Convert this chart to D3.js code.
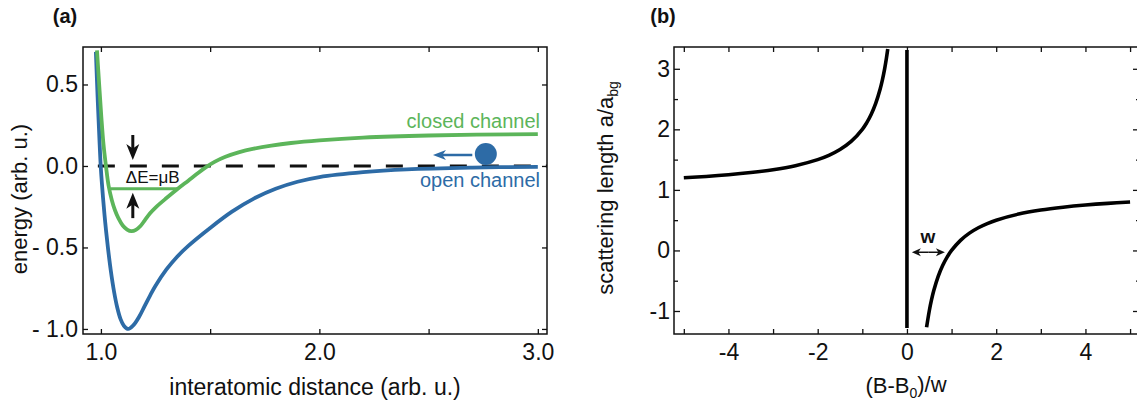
<!DOCTYPE html>
<html>
<head>
<meta charset="utf-8">
<script src="https://cdn.jsdelivr.net/npm/d3@7"></script>
<style>
  body { margin: 0; background: #fff; }
  svg text { font-family: Helvetica, Arial, "Liberation Sans", sans-serif; fill: #111; }
</style>
</head>
<body>
<script>
// ---- panel (a): potential curves ----
var openR  = [0.977, 0.985, 0.993, 1.000, 1.010, 1.020, 1.032, 1.045, 1.060, 1.075, 1.090, 1.105, 1.125,
              1.150, 1.175, 1.200, 1.225, 1.250, 1.300, 1.350, 1.400, 1.500, 1.600, 1.700, 1.800, 1.900, 2.000, 2.200, 2.400, 2.700, 3.000];
var openE  = [0.70, 0.42, 0.17, -0.02, -0.20, -0.35, -0.50, -0.64, -0.77, -0.87, -0.94, -0.98, -1.0,
              -0.975, -0.925, -0.86, -0.795, -0.735, -0.635, -0.555, -0.49, -0.38, -0.28, -0.20, -0.14, -0.097, -0.068, -0.038, -0.021, -0.01, -0.005];
var closedR = [0.982, 0.992, 1.002, 1.012, 1.023, 1.035, 1.050, 1.064, 1.080, 1.100, 1.120, 1.140,
               1.160, 1.180, 1.200, 1.225, 1.250, 1.300, 1.352, 1.400, 1.440, 1.478, 1.520, 1.570, 1.630, 1.700, 1.780, 1.870, 2.000, 2.200, 2.500, 3.000];
var closedE = [0.71, 0.50, 0.30, 0.13, 0.0, -0.12, -0.21, -0.27, -0.32, -0.365, -0.39, -0.40,
               -0.392, -0.37, -0.335, -0.29, -0.255, -0.197, -0.14, -0.09, -0.048, -0.01, 0.025, 0.056, 0.083, 0.106, 0.125, 0.141, 0.157, 0.174, 0.187, 0.196];
var boundR = [1.045, 1.352];     // bound state level, closed channel
var boundE = -0.14;
var thresholdR = [0.986, 3.042]; // dashed line at E = 0
var xTicksA = [1.0, 1.5, 2.0, 2.5, 3.0];
var xTickLabelsA = ["1.0", "", "2.0", "", "3.0"];
var yTicksA = [0.5, 0.0, -0.5, -1.0];
var yTickLabelsA = ["0.5", "0.0", "- 0.5", "- 1.0"];

// ---- panel (b): scattering length ----
var leftB  = [-5, -4.5, -4, -3.5, -3, -2.5, -2, -1.75, -1.5, -1.25, -1, -0.9, -0.8, -0.7, -0.6, -0.55, -0.5, -0.46, -0.43];
var leftA  = [1.2, 1.222, 1.25, 1.286, 1.333, 1.4, 1.5, 1.571, 1.667, 1.8, 2.0, 2.111, 2.25, 2.429, 2.667, 2.818, 3.0, 3.174, 3.326];
var rightB = [0.44, 0.5, 0.55, 0.6, 0.7, 0.8, 0.9, 1, 1.2, 1.4, 1.6, 1.8, 2, 2.5, 3, 3.5, 4, 4.5, 5];
var rightA = [-1.27, -1.0, -0.818, -0.667, -0.429, -0.25, -0.111, 0, 0.167, 0.286, 0.375, 0.444, 0.5, 0.6, 0.667, 0.714, 0.75, 0.778, 0.8];
var poleB = 0;
var poleA = [-1.28, 3.31];
var widthB = [0.11, 0.85];   // the "w" arrow
var xTicksB = [-5, -4, -3, -2, -1, 0, 1, 2, 3, 4, 5];
var xTickLabelsB = ["", "-4", "", "-2", "", "0", "", "2", "", "4", ""];
var yTicksB = [-1, 0, 1, 2, 3];
var yTickLabelsB = ["-1", "0", "1", "2", "3"];
var yMinorB = [-0.5, 0.5, 1.5, 2.5];

var blue = "#2d6ba6", green = "#5cb55a", font = "Helvetica, Arial, 'Liberation Sans', sans-serif";

var svg = d3.select("body").append("svg")
    .attr("width", 1137)
    .attr("height", 405);

//stealth arrow head, tip at (tx,ty) pointing along (ux,uy)
function arrowHead(tx, ty, ux, uy, len, w){
    var nx = -uy, ny = ux;
    return "M" + tx + "," + ty +
        "L" + (tx - len*ux + w*nx) + "," + (ty - len*uy + w*ny) +
        "L" + (tx - len*0.72*ux) + "," + (ty - len*0.72*uy) +
        "L" + (tx - len*ux - w*nx) + "," + (ty - len*uy - w*ny) + "Z";
}
function arrow(g, x1, y1, x2, y2, color, sw, len, w){
    var d = Math.hypot(x2 - x1, y2 - y1), ux = (x2 - x1)/d, uy = (y2 - y1)/d;
    g.append("line")
        .attr("x1", x1).attr("y1", y1)
        .attr("x2", x2 - ux*len*0.6).attr("y2", y2 - uy*len*0.6)
        .attr("stroke", color).attr("stroke-width", sw);
    g.append("path").attr("d", arrowHead(x2, y2, ux, uy, len, w)).attr("fill", color);
}

function styleAxis(g, size){
    g.attr("font-size", size).attr("font-family", font);
    g.select(".domain").remove();
    g.selectAll(".tick line").attr("stroke", "#111").attr("stroke-width", 1.3);
    g.selectAll(".tick text").attr("fill", "#111");
}

function frame(left, right, top, bottom){
    svg.append("rect")
        .attr("x", left).attr("y", top)
        .attr("width", right - left).attr("height", bottom - top)
        .attr("fill", "none").attr("stroke", "#111").attr("stroke-width", 1.5);
}

// ================= panel (a) =================
var xA = d3.scaleLinear().domain([0.918, 3.042]).range([83, 547]);
var yA = d3.scaleLinear().domain([-1.031, 0.730]).range([334, 47]);

svg.append("g").attr("transform", "translate(0,334)")
    .call(d3.axisBottom(xA).tickValues(xTicksA).tickFormat(function(d, i){ return xTickLabelsA[i]; })
        .tickSizeInner(-5).tickSizeOuter(0).tickPadding(10))
    .call(styleAxis, 23);
svg.append("g").attr("transform", "translate(0,47)")
    .call(d3.axisTop(xA).tickValues(xTicksA).tickFormat("").tickSizeInner(-5).tickSizeOuter(0))
    .call(styleAxis, 23);
svg.append("g").attr("transform", "translate(83,0)")
    .call(d3.axisLeft(yA).tickValues(yTicksA).tickFormat(function(d, i){ return yTickLabelsA[i]; })
        .tickSizeInner(-5).tickSizeOuter(0).tickPadding(5))
    .call(styleAxis, 23);
svg.append("g").attr("transform", "translate(547,0)")
    .call(d3.axisRight(yA).tickValues(yTicksA).tickFormat("").tickSizeInner(-5).tickSizeOuter(0))
    .call(styleAxis, 23);
frame(83, 547, 47, 334);

var lineA = d3.line()
    .x(function(d){ return xA(d[0]); })
    .y(function(d){ return yA(d[1]); })
    .curve(d3.curveCatmullRom.alpha(0.5));

// threshold (dashed)
svg.append("line")
    .attr("x1", xA(thresholdR[0])).attr("x2", xA(thresholdR[1]))
    .attr("y1", yA(0)).attr("y2", yA(0))
    .attr("stroke", "#111").attr("stroke-width", 3)
    .attr("stroke-dasharray", "17,15");

svg.append("path")
    .datum(d3.zip(openR, openE))
    .attr("d", lineA)
    .attr("fill", "none").attr("stroke", blue).attr("stroke-width", 3.8);

svg.append("path")
    .datum(d3.zip(closedR, closedE))
    .attr("d", lineA)
    .attr("fill", "none").attr("stroke", green).attr("stroke-width", 3.8);

// bound state level
svg.append("line")
    .attr("x1", xA(boundR[0])).attr("x2", xA(boundR[1]))
    .attr("y1", yA(boundE)).attr("y2", yA(boundE))
    .attr("stroke", green).attr("stroke-width", 3);

// detuning arrows
var ann = svg.append("g");
arrow(ann, xA(1.146), yA(0.19), xA(1.146), yA(0.037), "#111", 3, 16, 6.5);
arrow(ann, xA(1.146), yA(-0.32), xA(1.146), yA(-0.165), "#111", 3, 16, 6.5);
ann.append("text")
    .attr("x", xA(1.237)).attr("y", yA(-0.104))
    .attr("text-anchor", "middle").attr("font-size", 17)
    .text("ΔE=μB");

// incoming atom
arrow(ann, xA(2.70), yA(0.067), xA(2.52), yA(0.067), blue, 2.5, 13, 5);
ann.append("circle")
    .attr("cx", xA(2.762)).attr("cy", yA(0.074)).attr("r", 11)
    .attr("fill", blue);

ann.append("text")
    .attr("x", xA(3.01)).attr("y", yA(0.233))
    .attr("text-anchor", "end").attr("font-size", 20)
    .style("fill", green)
    .text("closed channel");
ann.append("text")
    .attr("x", xA(3.01)).attr("y", yA(-0.13))
    .attr("text-anchor", "end").attr("font-size", 20)
    .style("fill", blue)
    .text("open channel");

svg.append("text")
    .attr("x", 315).attr("y", 395)
    .attr("text-anchor", "middle").attr("font-size", 23)
    .text("interatomic distance (arb. u.)");
svg.append("text")
    .attr("transform", "translate(27,199) rotate(-90)")
    .attr("text-anchor", "middle").attr("font-size", 22)
    .text("energy (arb. u.)");
svg.append("text")
    .attr("x", 65).attr("y", 23)
    .attr("text-anchor", "middle").attr("font-size", 20).attr("font-weight", "bold")
    .text("(a)");

// ================= panel (b) =================
var xB = d3.scaleLinear().domain([-5.22, 5.2]).range([674, 1139]);
var yB = d3.scaleLinear().domain([-1.38, 3.36]).range([334, 47]);

svg.append("g").attr("transform", "translate(0,334)")
    .call(d3.axisBottom(xB).tickValues(xTicksB).tickFormat(function(d, i){ return xTickLabelsB[i]; })
        .tickSizeInner(-5).tickSizeOuter(0).tickPadding(10))
    .call(styleAxis, 23);
svg.append("g").attr("transform", "translate(0,47)")
    .call(d3.axisTop(xB).tickValues(xTicksB).tickFormat("").tickSizeInner(-5).tickSizeOuter(0))
    .call(styleAxis, 23);
svg.append("g").attr("transform", "translate(674,0)")
    .call(d3.axisLeft(yB).tickValues(yTicksB).tickFormat(function(d, i){ return yTickLabelsB[i]; })
        .tickSizeInner(-6).tickSizeOuter(0).tickPadding(4))
    .call(styleAxis, 23);
svg.append("g").attr("transform", "translate(674,0)")
    .call(d3.axisLeft(yB).tickValues(yMinorB).tickFormat("").tickSizeInner(-4).tickSizeOuter(0))
    .call(styleAxis, 23);
svg.append("g").attr("transform", "translate(1139,0)")
    .call(d3.axisRight(yB).tickValues(yTicksB).tickFormat("").tickSizeInner(-6).tickSizeOuter(0))
    .call(styleAxis, 23);
svg.append("g").attr("transform", "translate(1139,0)")
    .call(d3.axisRight(yB).tickValues(yMinorB).tickFormat("").tickSizeInner(-3).tickSizeOuter(0))
    .call(styleAxis, 23);
frame(674, 1139, 47, 334);

var lineB = d3.line()
    .x(function(d){ return xB(d[0]); })
    .y(function(d){ return yB(d[1]); })
    .curve(d3.curveCatmullRom.alpha(0.5));

svg.append("path")
    .datum(d3.zip(leftB, leftA))
    .attr("d", lineB)
    .attr("fill", "none").attr("stroke", "#000").attr("stroke-width", 3.6);
svg.append("path")
    .datum(d3.zip(rightB, rightA))
    .attr("d", lineB)
    .attr("fill", "none").attr("stroke", "#000").attr("stroke-width", 3.6);
svg.append("line")
    .attr("x1", xB(poleB)).attr("x2", xB(poleB))
    .attr("y1", yB(poleA[0])).attr("y2", yB(poleA[1]))
    .attr("stroke", "#000").attr("stroke-width", 3.6);

// width arrow
var wy = yB(-0.03);
arrow(svg, xB((widthB[0] + widthB[1]) / 2), wy, xB(widthB[1]), wy, "#111", 1.5, 9, 4);
arrow(svg, xB((widthB[0] + widthB[1]) / 2), wy, xB(widthB[0]), wy, "#111", 1.5, 9, 4);
svg.append("text")
    .attr("x", xB(0.47)).attr("y", yB(0.13))
    .attr("text-anchor", "middle").attr("font-size", 19).attr("font-weight", "bold")
    .text("w");

var xl = svg.append("text")
    .attr("x", 906).attr("y", 393)
    .attr("text-anchor", "middle").attr("font-size", 22);
xl.append("tspan").text("(B-B");
xl.append("tspan").attr("font-size", 14).attr("dy", "0.35em").text("0");
xl.append("tspan").attr("dy", "-0.25em").text(")/w");

var yl = svg.append("text")
    .attr("transform", "translate(613,188) rotate(-90)")
    .attr("text-anchor", "middle").attr("font-size", 22);
yl.append("tspan").text("scattering length a/a");
yl.append("tspan").attr("font-size", 14).attr("dy", "0.35em").text("bg");

svg.append("text")
    .attr("x", 663).attr("y", 23)
    .attr("text-anchor", "middle").attr("font-size", 20).attr("font-weight", "bold")
    .text("(b)");
</script>
</body>
</html>
